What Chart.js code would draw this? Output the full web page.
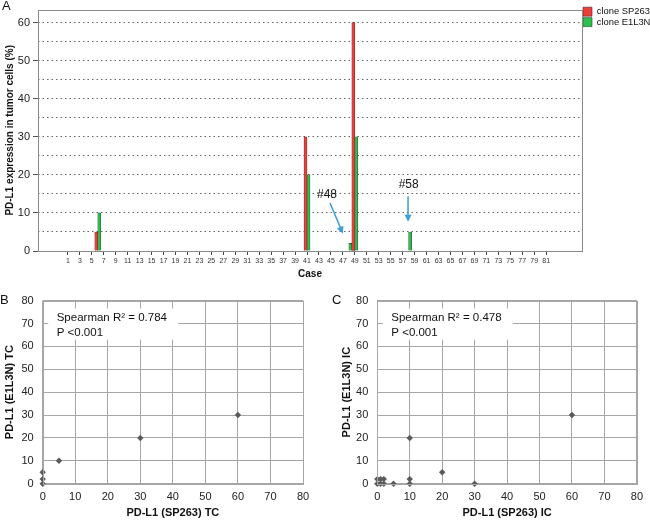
<!DOCTYPE html>
<html lang="en">
<head>
<meta charset="UTF-8">
<title>PD-L1 expression, SP263 vs E1L3N</title>
<script src="https://cdn.jsdelivr.net/npm/chart.js"></script>
<style>
  body { margin: 0; background: #fff; }
  .panel { position: absolute; }
</style>
</head>
<body>
<div class="panel" style="left:0;top:0;width:650px;height:285px"><canvas id="barChart"></canvas></div>
<div class="panel" style="left:0;top:285px;width:325px;height:236px"><canvas id="tcChart"></canvas></div>
<div class="panel" style="left:325px;top:285px;width:325px;height:236px"><canvas id="icChart"></canvas></div>

<script>
// ---- data, panel A (per case, only non-zero cases) ----
const caseTicks = [1, 3, 5, 7, 9, 11, 13, 15, 17, 19, 21, 23, 25, 27, 29, 31, 33, 35, 37, 39,
  41, 43, 45, 47, 49, 51, 53, 55, 57, 59, 61, 63, 65, 67, 69, 71, 73, 75, 77, 79, 81];
const sp263Cases = [6, 41, 49];
const sp263Values = [5, 30, 60];
const e1l3nCases = [6, 41, 48, 49, 58];
const e1l3nValues = [10, 20, 2, 30, 5];

// ---- data, panel B (tumor cells) ----
const tcSP263 = [0, 0, 0, 5, 30, 60];
const tcE1L3N = [0, 2, 5, 10, 20, 30];

// ---- data, panel C (immune cells) ----
const icSP263 = [0, 0, 1, 1, 2, 2, 5, 10, 10, 10, 20, 30, 60];
const icE1L3N = [0, 2, 0, 2, 0, 2, 0, 0, 2, 20, 5, 0, 30];

Chart.defaults.font.family = "'Liberation Sans', Arial, sans-serif";
Chart.defaults.color = '#222';
Chart.defaults.animation = false;

const pairs = (xs, ys) => xs.map((x, i) => ({ x: x, y: ys[i] }));

// gray box around the plot area
const framePlugin = {
  id: 'frame',
  afterDraw(chart, args, opts) {
    const a = chart.chartArea, ctx = chart.ctx;
    ctx.save();
    ctx.strokeStyle = opts.color || '#999';
    ctx.lineWidth = 1;
    ctx.strokeRect(Math.round(a.left) + 0.5, Math.round(a.top) + 0.5,
      Math.round(a.right - a.left), Math.round(a.bottom - a.top));
    ctx.restore();
  }
};

// the A / B / C letters
const panelLabel = {
  id: 'panelLabel',
  afterDraw(chart, args, opts) {
    const ctx = chart.ctx;
    ctx.save();
    ctx.font = "13px 'Liberation Sans', Arial, sans-serif";
    ctx.fillStyle = '#111';
    ctx.textBaseline = 'alphabetic';
    ctx.fillText(opts.text, opts.x, opts.y);
    ctx.restore();
  }
};

// "#48" / "#58" notes with blue arrows, placed in data units
const arrowNotes = {
  id: 'arrowNotes',
  afterDatasetsDraw(chart, args, opts) {
    const ctx = chart.ctx, xs = chart.scales.x, ys = chart.scales.y;
    ctx.save();
    opts.notes.forEach(n => {
      ctx.font = "12px 'Liberation Sans', Arial, sans-serif";
      ctx.fillStyle = '#111';
      ctx.textAlign = 'center';
      ctx.textBaseline = 'middle';
      ctx.fillText(n.label, xs.getPixelForValue(n.textX), ys.getPixelForValue(n.textY));
      const x1 = xs.getPixelForValue(n.fromX), y1 = ys.getPixelForValue(n.fromY);
      const x2 = xs.getPixelForValue(n.toX), y2 = ys.getPixelForValue(n.toY);
      const ang = Math.atan2(y2 - y1, x2 - x1);
      ctx.strokeStyle = '#3d9fd3';
      ctx.fillStyle = '#3d9fd3';
      ctx.lineWidth = 1.5;
      ctx.beginPath();
      ctx.moveTo(x1, y1);
      ctx.lineTo(x2 - 5 * Math.cos(ang), y2 - 5 * Math.sin(ang));
      ctx.stroke();
      ctx.beginPath();
      ctx.moveTo(x2, y2);
      ctx.lineTo(x2 - 7 * Math.cos(ang) + 3.5 * Math.sin(ang), y2 - 7 * Math.sin(ang) - 3.5 * Math.cos(ang));
      ctx.lineTo(x2 - 7 * Math.cos(ang) - 3.5 * Math.sin(ang), y2 - 7 * Math.sin(ang) + 3.5 * Math.cos(ang));
      ctx.closePath();
      ctx.fill();
    });
    ctx.restore();
  }
};

// white box with the Spearman text
const statBox = {
  id: 'statBox',
  beforeDatasetsDraw(chart, args, opts) {
    const a = chart.chartArea, ctx = chart.ctx;
    ctx.save();
    ctx.fillStyle = '#fff';
    ctx.fillRect(a.left + 5.5, a.top + 8, 130, 31);
    ctx.font = "11.5px 'Liberation Sans', Arial, sans-serif";
    ctx.fillStyle = '#111';
    ctx.textBaseline = 'middle';
    ctx.fillText(opts.lines[0], a.left + 14, a.top + 17.7);
    ctx.fillText(opts.lines[1], a.left + 14, a.top + 32.7);
    ctx.restore();
  }
};

// ---------- A: bar chart ----------
new Chart(document.getElementById('barChart'), {
  type: 'bar',
  data: {
    datasets: [
      { label: 'clone SP263', data: pairs(sp263Cases, sp263Values),
        backgroundColor: '#ee3e3a', borderColor: '#4a2a2a', borderWidth: 0.6 },
      { label: 'clone E1L3N', data: pairs(e1l3nCases, e1l3nValues),
        backgroundColor: '#2fbf4c', borderColor: '#2a4a2e', borderWidth: 0.6 }
    ]
  },
  options: {
    responsive: true,
    maintainAspectRatio: false,
    categoryPercentage: 1,
    barPercentage: 1,
    layout: { padding: { top: 6, left: 0, right: 0, bottom: 0 } },
    plugins: {
      legend: {
        position: 'right',
        align: 'start',
        maxWidth: 68,
        labels: { boxWidth: 9, boxHeight: 9, padding: 1, color: '#111', font: { size: 9.4 } }
      },
      tooltip: { enabled: false },
      frame: { color: '#8a8a8a' },
      panelLabel: { text: 'A', x: 2, y: 10 },
      arrowNotes: {
        notes: [
          { label: '#48', textX: 44.35, textY: 14.9, fromX: 44.85, fromY: 12.6, toX: 47.0, toY: 4.6 },
          { label: '#58', textX: 58, textY: 17.3, fromX: 57.9, fromY: 14.4, toX: 57.9, toY: 7.7 }
        ]
      }
    },
    scales: {
      x: {
        type: 'linear',
        min: -4,
        max: 87,
        offset: false,
        afterBuildTicks: s => { s.ticks = caseTicks.map(v => ({ value: v })); },
        afterFit: s => { s.height = 34; },
        border: { display: false },
        grid: { drawOnChartArea: false, drawTicks: true, tickLength: 4, tickColor: '#444', offset: false },
        ticks: { autoSkip: false, maxRotation: 0, padding: 2, color: '#333', font: { size: 7 } },
        title: { display: true, text: 'Case', color: '#111',
          font: { size: 10, weight: 'bold' }, padding: { top: 0, bottom: 5 } }
      },
      y: {
        min: 0,
        max: 63.4,
        afterFit: s => { s.width = 38; },
        border: { display: false, dash: [1.5, 3] },
        grid: {
          color: c => c.tick.value === 0 ? 'rgba(0,0,0,0)' : '#666',
          tickColor: c => c.tick.value % 10 === 0 ? '#555' : 'rgba(0,0,0,0)',
          tickLength: 5,
          tickBorderDash: []
        },
        ticks: { stepSize: 5, includeBounds: false, padding: 3, color: '#222', font: { size: 11 },
          callback: v => v % 10 === 0 ? v : '' },
        title: { display: true, text: 'PD-L1 expression in tumor cells (%)', color: '#111',
          font: { size: 10, weight: 'bold' }, padding: { top: 4, bottom: 0 } }
      }
    }
  },
  plugins: [framePlugin, panelLabel, arrowNotes]
});

// ---------- B and C: scatter plots ----------
function scatterPanel(id, xs, ys, letter, letterX, xTitle, yTitle, stats, padLeft, axisWidth, padRight) {
  new Chart(document.getElementById(id), {
    type: 'scatter',
    data: {
      datasets: [{
        data: pairs(xs, ys),
        pointStyle: 'rectRot',
        radius: 3.2,
        backgroundColor: '#5a5a5a',
        borderColor: '#5a5a5a',
        borderWidth: 0,
        clip: false
      }]
    },
    options: {
      responsive: true,
      maintainAspectRatio: false,
      layout: { padding: { top: 14, left: padLeft, right: padRight, bottom: 0 } },
      plugins: {
        legend: { display: false },
        tooltip: { enabled: false },
        frame: { color: '#a6a6a6' },
        panelLabel: { text: letter, x: letterX, y: 19 },
        statBox: { lines: stats }
      },
      scales: {
        x: {
          min: 0, max: 80,
          afterFit: s => { s.height = 37.3; },
          border: { display: false },
          grid: { color: '#a6a6a6', drawTicks: false },
          ticks: { stepSize: 10, padding: 7, color: '#222', font: { size: 11 } },
          title: { display: true, text: xTitle, color: '#111',
            font: { size: 11, weight: 'bold' }, padding: { top: 0, bottom: 1 } }
        },
        y: {
          min: 0, max: 80,
          afterFit: s => { s.width = axisWidth; },
          border: { display: false },
          grid: { color: '#a6a6a6', drawTicks: false },
          ticks: { stepSize: 10, padding: 9, color: '#222', font: { size: 11 } },
          title: { display: true, text: yTitle, color: '#111',
            font: { size: 11, weight: 'bold' }, padding: { top: 3, bottom: 0 } }
        }
      }
    },
    plugins: [statBox, framePlugin, panelLabel]
  });
}

scatterPanel('tcChart', tcSP263, tcE1L3N, 'B', 0, 'PD-L1 (SP263) TC', 'PD-L1 (E1L3N) TC',
  ['Spearman R\u00B2 = 0.784', 'P <0.001'], 0, 42.7, 22);
scatterPanel('icChart', icSP263, icE1L3N, 'C', 7, 'PD-L1 (SP263) IC', 'PD-L1 (E1L3N) IC',
  ['Spearman R\u00B2 = 0.478', 'P <0.001'], 12, 40.3, 11.7);
</script>
</body>
</html>
